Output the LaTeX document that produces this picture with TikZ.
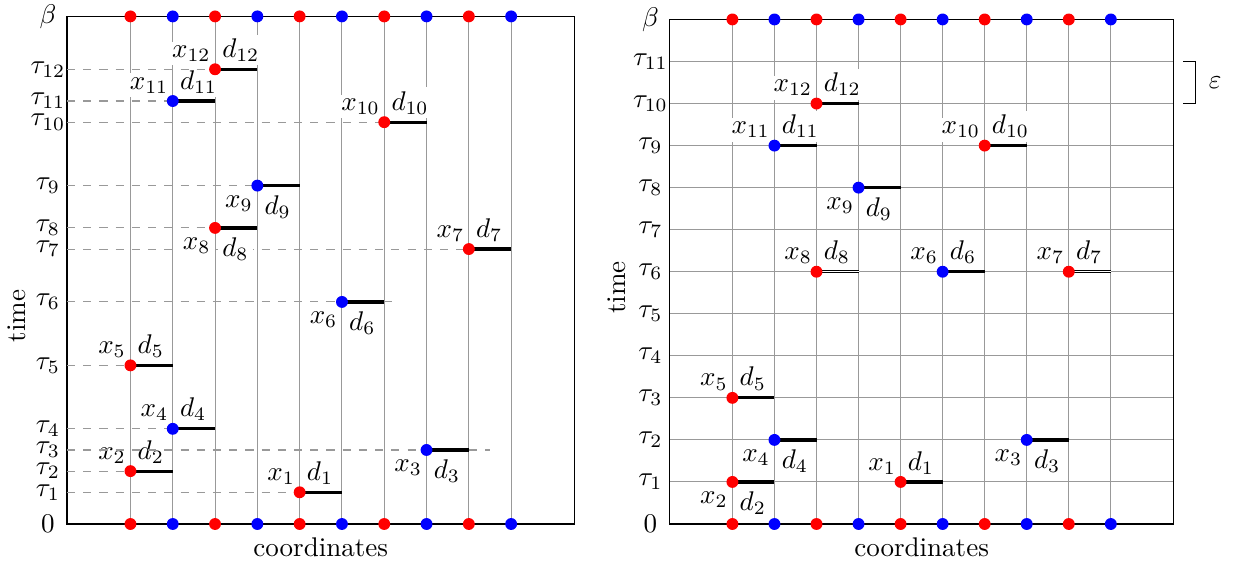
\documentclass[tikz,border=0pt]{standalone}
\usepackage{amsmath,amssymb}
\usepackage{tikz}
\usetikzlibrary{calc}
\definecolor{rulegray}{gray}{0.6}
\definecolor{sitered}{RGB}{255,0,0}
\definecolor{siteblue}{RGB}{0,0,255}

\begin{document}
\begin{tikzpicture}[x=0.55cm, y=0.55cm,
    gridline/.style={rulegray, line width=0.4pt},
    tline/.style={rulegray, dashed, line width=0.4pt},
    seg/.style={line width=1.2pt},
    dseg/.style={double, double distance=0.45pt, line width=0.4pt},
    site/.style={circle, fill=#1, inner sep=0pt, minimum size=4.4pt},
    tick/.style={inner sep=0.5pt},
    lab/.style={fill=white, inner sep=1.5pt},
    xa/.style={lab, anchor=south east, yshift=1.2pt},
    da/.style={lab, anchor=south west, xshift=1pt, yshift=1.2pt},
    xb/.style={lab, anchor=north east, yshift=-2pt},
    db/.style={lab, anchor=north west, xshift=1pt, yshift=-2pt}]
    \useasboundingbox (-1.584,-0.875) rectangle (27.589,12.388);

    % Left: grid and frame
    \coordinate (lo) at (0,0);
    \foreach \k in {1,...,10} \draw[gridline] (\k+0.5,0) -- (\k+0.5,12);
    \draw (0,0) rectangle (12,12);
    \node[tick] (lbeta) at (-0.45,12) {$\beta$};
    \node[tick] (lzero) at (-0.45,0) {$0$};
    \node[rotate=90] (ltime) at (-1.19,4.92) {time};
    \node (lcoord) at (6,-0.55) {coordinates};

    % Left: events
    \foreach \i/\px/\ty/\col/\xs/\ds in {1/5.5/0.75/sitered/xa/da, 2/1.5/1.25/sitered/xa/da,
        3/8.5/1.75/siteblue/xb/db, 4/2.5/2.25/siteblue/xa/da, 5/1.5/3.75/sitered/xa/da,
        6/6.5/5.25/siteblue/xb/db, 7/9.5/6.5/sitered/xa/da, 8/3.5/7/sitered/xb/db,
        9/4.5/8/siteblue/xb/db, 10/7.5/9.5/sitered/xa/da, 11/2.5/10/siteblue/xa/da,
        12/3.5/10.75/sitered/xa/da} {
        \coordinate (l\i) at (\px,\ty);
        \coordinate (le\i) at (\px+1,\ty);
        \node[tick] (lt\i) at (-0.45,\ty) {$\tau_{\i}$};
        \draw[tline] (l\i -| lo) -- (l\i);
        \node[\xs] (lx\i) at (l\i) {$x_{\i}$};
        \node[\ds] (ld\i) at (l\i) {$d_{\i}$};
        \draw[seg] (l\i) -- (le\i);
        \node[site=\col] (lp\i) at (l\i) {};
    }
    \coordinate (l3x) at (10,1.75);
    \coordinate (l6x) at (7.85,5.25);
    \draw[tline] (le3) -- (l3x);
    \draw[tline] (le6) -- (l6x);

    % Left: sites on 0 and beta
    \foreach \k/\col in {1/sitered,2/siteblue,3/sitered,4/siteblue,5/sitered,
        6/siteblue,7/sitered,8/siteblue,9/sitered,10/siteblue} {
        \node[site=\col] (lb\k) at (\k+0.5,0) {};
        \node[site=\col] (lu\k) at (\k+0.5,12) {};
    }

    \begin{scope}[shift={(14.24,0)}, scale=0.994]
        % Right: grid and frame
        \foreach \k in {1,...,10} \draw[gridline] (\k+0.5,0) -- (\k+0.5,12);
        \foreach \k in {1,...,11} {
            \draw[gridline] (0,\k) -- (12,\k);
            \node[tick] (rt\k) at (-0.45,\k) {$\tau_{\k}$};
        }
        \draw (0,0) rectangle (12,12);
        \node[tick] (rbeta) at (-0.45,12) {$\beta$};
        \node[tick] (rzero) at (-0.45,0) {$0$};
        \node[rotate=90] (rtime) at (-1.24,5.62) {time};
        \node (rcoord) at (6,-0.55) {coordinates};

        % Right: epsilon bracket
        \coordinate (eu) at (12.22,11);
        \coordinate (eu2) at (12.51,11);
        \coordinate (ed2) at (12.51,10);
        \coordinate (ed) at (12.22,10);
        \draw (eu) -- (eu2) -- (ed2) -- (ed);
        \node (eps) at (12.98,10.5) {$\varepsilon$};

        % Right: events
        \foreach \i/\px/\ty/\col/\xs/\ds/\sg in {1/5.5/1/sitered/xa/da/seg, 2/1.5/1/sitered/xb/db/seg,
            3/8.5/2/siteblue/xb/db/seg, 4/2.5/2/siteblue/xb/db/seg, 5/1.5/3/sitered/xa/da/seg,
            6/6.5/6/siteblue/xa/da/seg, 7/9.5/6/sitered/xa/da/dseg, 8/3.5/6/sitered/xa/da/dseg,
            9/4.5/8/siteblue/xb/db/seg, 10/7.5/9/sitered/xa/da/seg, 11/2.5/9/siteblue/xa/da/seg,
            12/3.5/10/sitered/xa/da/seg} {
            \coordinate (r\i) at (\px,\ty);
            \coordinate (re\i) at (\px+1,\ty);
            \node[\xs] (rx\i) at (r\i) {$x_{\i}$};
            \node[\ds] (rd\i) at (r\i) {$d_{\i}$};
            \draw[\sg] (r\i) -- (re\i);
            \node[site=\col] (rp\i) at (r\i) {};
        }

        % Right: sites on 0 and beta
        \foreach \k/\col in {1/sitered,2/siteblue,3/sitered,4/siteblue,5/sitered,
            6/siteblue,7/sitered,8/siteblue,9/sitered,10/siteblue} {
            \node[site=\col] (rb\k) at (\k+0.5,0) {};
            \node[site=\col] (ru\k) at (\k+0.5,12) {};
        }
    \end{scope}
\end{tikzpicture}
\end{document}
